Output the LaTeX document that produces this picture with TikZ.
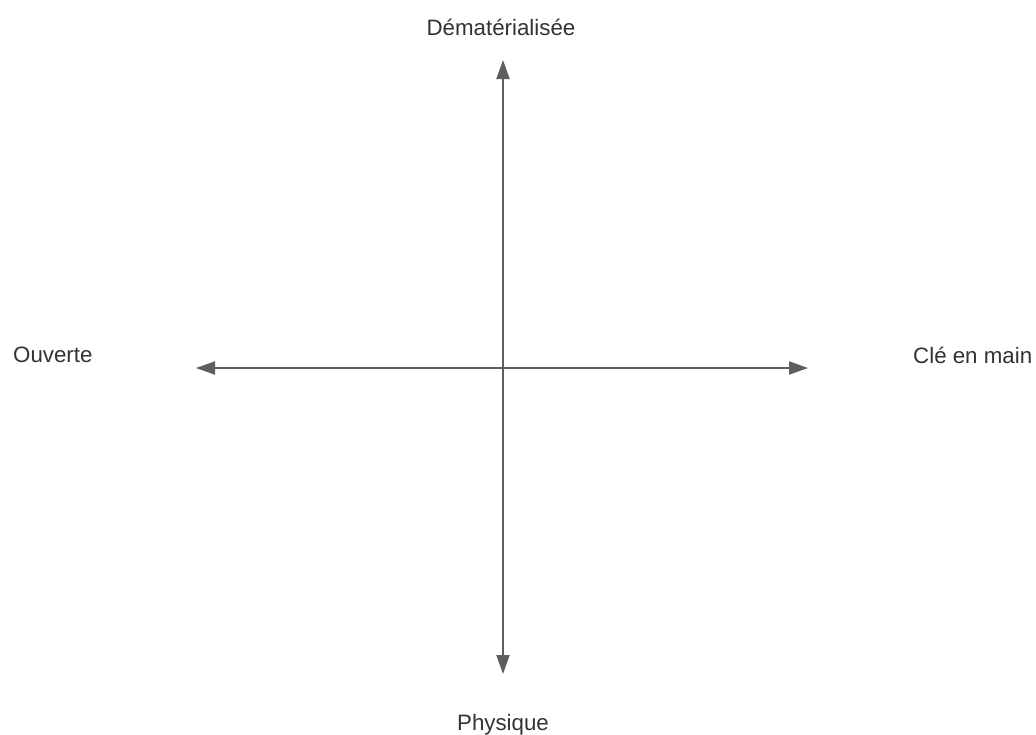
\documentclass[tikz,border=0pt]{standalone}
\usepackage{fontspec}
\setmainfont{Liberation Sans}
\usetikzlibrary{arrows.meta}
\definecolor{axisgray}{HTML}{5E5E5E}
\definecolor{textgray}{HTML}{333333}
\begin{document}
\begin{tikzpicture}[x=1pt,y=-1pt,
  axisline/.style={draw=axisgray,line width=2pt,-{Triangle[length=19pt,width=13pt]}},
  lbl/.style={text=textgray,font=\fontsize{22.3}{26}\selectfont,inner sep=0pt}]
\useasboundingbox[fill=white] (0,0) rectangle (1036,734);
\coordinate (c) at (503,368);
\coordinate (top) at (503,60);
\coordinate (bot) at (503,674);
\coordinate (left) at (196,368);
\coordinate (right) at (808,368);
\draw[axisline] (c) -- (top);
\draw[axisline] (c) -- (bot);
\draw[axisline] (c) -- (left);
\draw[axisline] (c) -- (right);
\node[lbl] (dem) at (501,27) {Dématérialisée};
\node[lbl] (phy) at (503,725) {Physique};
\node[lbl,anchor=west] (ouv) at (13,355) {Ouverte};
\node[lbl,anchor=west] (cle) at (913,355) {Clé en main};
\end{tikzpicture}
\end{document}
